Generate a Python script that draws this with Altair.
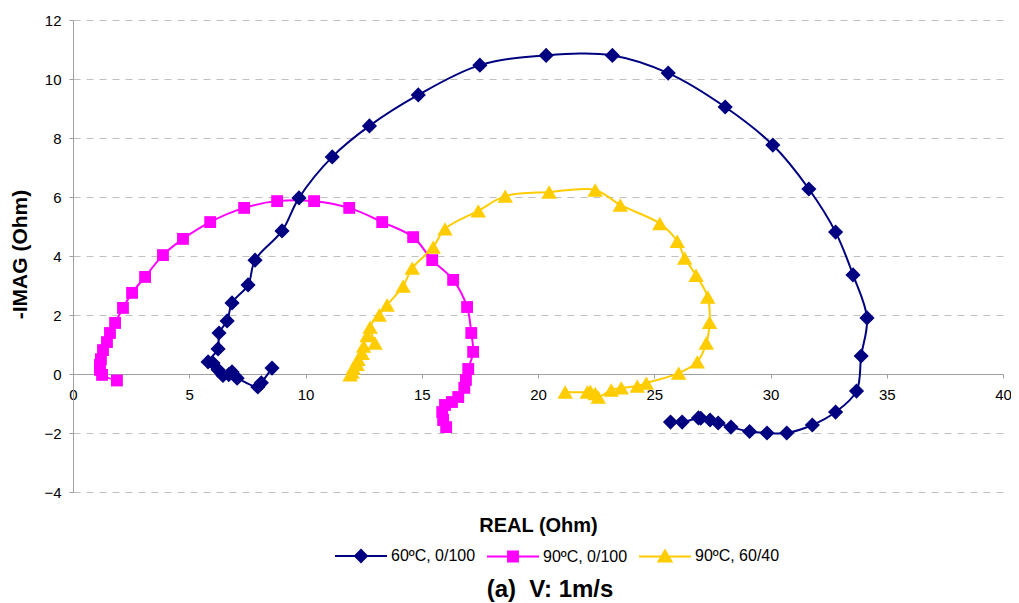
import altair as alt
import pandas as pd

# ---------------- data ----------------
series_names = ["60ºC, 0/100", "90ºC, 0/100", "90ºC, 60/40"]
series_colors = ["#000080", "#FF00FF", "#FFCC00"]
series_shapes = ["diamond", "square", "triangle-up"]
series_sizes = [230, 140, 240]

s1_re = [25.7, 26.2, 26.9, 27.0, 27.4, 27.75, 28.3, 29.1, 29.85, 30.7, 31.8, 32.8,
         33.7, 33.9, 34.15, 33.55, 32.8, 31.65, 30.1, 28.05, 25.6, 23.2, 20.35,
         17.5, 14.85, 12.75, 11.15, 9.72, 8.99, 7.83, 7.53, 6.84, 6.63, 6.28, 6.24,
         5.81, 6.02, 6.24, 6.45, 6.84, 6.7, 7.06, 7.95, 8.1, 8.56]
s1_im = [-1.63, -1.63, -1.49, -1.5, -1.56, -1.66, -1.8, -1.95, -2.0, -2.0, -1.73, -1.29,
         -0.58, 0.61, 1.9, 3.36, 4.81, 6.27, 7.76, 9.05, 10.2, 10.8, 10.8,
         10.47, 9.46, 8.41, 7.36, 5.97, 4.85, 3.86, 3.02, 2.41, 1.8, 1.39, 0.85,
         0.41, 0.37, 0.14, -0.05, 0.07, -0.02, -0.14, -0.44, -0.3, 0.2]

s2_re = [1.89, 1.25, 1.16, 1.16, 1.2, 1.29, 1.46, 1.59, 1.81, 2.15, 2.54, 3.1, 3.87,
         4.73, 5.9, 7.36, 8.78, 10.37, 11.88, 13.3, 14.63, 15.45, 16.35, 16.95,
         17.13, 17.21, 17.0, 16.9, 16.83, 16.57, 16.3, 16.0, 15.88, 15.92, 16.05]
s2_im = [-0.22, -0.03, 0.14, 0.31, 0.5, 0.81, 1.08, 1.39, 1.73, 2.24, 2.75, 3.29, 4.03,
         4.58, 5.15, 5.63, 5.86, 5.86, 5.63, 5.15, 4.64, 3.86, 3.19, 2.27,
         1.39, 0.75, 0.17, -0.2, -0.47, -0.78, -0.95, -1.05, -1.29, -1.56, -1.8]

s3_re = [21.17, 22.12, 22.25, 22.46, 22.59, 23.15, 23.58, 24.27, 24.66, 26.05, 26.85,
         27.24, 27.38, 27.3, 26.8, 26.31, 25.99, 25.24, 23.54, 22.46, 20.48, 18.59,
         17.43, 16.0, 15.49, 14.59, 14.2, 13.51, 13.17, 12.78, 12.99, 12.65, 12.5,
         12.44, 12.26, 12.22, 12.05, 12.0, 11.92]
s3_im = [-0.61, -0.61, -0.58, -0.66, -0.78, -0.54, -0.47, -0.41, -0.31, 0.03, 0.41,
         1.05, 1.75, 2.61, 3.35, 3.93, 4.5, 5.1, 5.73, 6.24, 6.17, 6.03,
         5.53, 4.92, 4.3, 3.59, 2.98, 2.34, 2.0, 1.59, 1.05, 1.3, 0.95,
         0.7, 0.5, 0.33, 0.2, 0.07, -0.03]

x_ticks = [0, 5, 10, 15, 20, 25, 30, 35, 40]
y_ticks = [-4, -2, 0, 2, 4, 6, 8, 10, 12]

x_title = "REAL (Ohm)"
y_title = "-IMAG (Ohm)"
caption = "(a)\u00a0 V: 1m/s"

rows = []
for name, xs, ys in zip(series_names, [s1_re, s2_re, s3_re], [s1_im, s2_im, s3_im]):
    for i, (a, b) in enumerate(zip(xs, ys)):
        rows.append({"series": name, "re": a, "im": b, "idx": i})
df = pd.DataFrame(rows)
cap_df = pd.DataFrame({"t": [caption]})

# ---------------- encodings ----------------
FONT = "Liberation Sans"
AX_GRAY = "#a0a0a0"

x_enc = alt.X(
    "re:Q",
    scale=alt.Scale(domain=[0, 40], nice=False, zero=False),
    axis=alt.Axis(
        values=x_ticks, title=x_title, offset=-118, grid=False,
        domainColor=AX_GRAY, tickColor=AX_GRAY, tickSize=4, labelPadding=9,
        labelFontSize=15, labelColor="#000000", labelFlush=False, labelOverlap=False,
        titleFontSize=20, titleFontWeight="bold", titleColor="#000000",
        titleY=151, titleBaseline="middle",
    ),
)
y_enc = alt.Y(
    "im:Q",
    scale=alt.Scale(domain=[-4, 12], nice=False, zero=False),
    axis=alt.Axis(
        values=y_ticks, title=y_title, grid=True, gridColor="#c0c0c0",
        gridDash=[7, 6], gridWidth=1,
        domainColor=AX_GRAY, tickColor=AX_GRAY, tickSize=4, labelPadding=8,
        labelFontSize=15, labelColor="#000000", labelFlush=False, labelOverlap=False,
        titleFontSize=21, titleFontWeight="bold", titleColor="#000000",
        titleX=-53, titleY=234, titleAngle=270, titleAlign="center",
        titleBaseline="middle",
    ),
)

color_scale = alt.Scale(domain=series_names, range=series_colors)

line_layers = []
point_layers = []
for name, col, shp, sz in zip(series_names, series_colors, series_shapes, series_sizes):
    line_layers.append(
        alt.Chart(df)
        .transform_filter(alt.datum.series == name)
        .mark_line(interpolate="catmull-rom", strokeWidth=2, color=col)
        .encode(x=x_enc, y=y_enc, order=alt.Order("idx:Q"))
    )
    point_layers.append(
        alt.Chart(df)
        .transform_filter(alt.datum.series == name)
        .mark_point(filled=True, opacity=1, shape=shp, size=sz, color=col)
        .encode(x=x_enc, y=y_enc)
    )

# legend symbols: a line segment with the marker on it
legend_paths = [
    "M-1,0H1M-0.23,0L0,-0.23L0.23,0L0,0.23Z",
    "M-1,0H1M-0.19,-0.19H0.19V0.19H-0.19Z",
    "M-1,0H1M-0.25,0.2L0.25,0.2L0,-0.23Z",
]
leg = alt.Legend(
    title=None, orient="none", legendX=261, legendY=509, direction="horizontal",
    labelFontSize=16, labelFont=FONT, labelColor="#000000", labelOffset=3,
    columnPadding=7, symbolSize=2704, symbolStrokeWidth=2, padding=0,
    labelLimit=300, symbolFillColor="#000080", symbolStrokeColor="#000080",
    symbolOpacity=1,
)
legend_layer = alt.Chart(df).transform_filter("false").mark_point(
    filled=True, size=2704, strokeWidth=2, opacity=1
).encode(
    x=x_enc, y=y_enc,
    fill=alt.Fill("series:N", scale=color_scale, legend=leg),
    stroke=alt.Stroke("series:N", scale=color_scale, legend=leg),
    shape=alt.Shape("series:N",
                    scale=alt.Scale(domain=series_names, range=legend_paths),
                    legend=leg),
)

cap = alt.Chart(cap_df).mark_text(
    fontSize=24, fontWeight="bold", font=FONT, color="#000000",
    align="center", baseline="alphabetic",
).encode(text="t:N", x=alt.value(477), y=alt.value(577))

chart = (
    alt.layer(*line_layers, *point_layers, legend_layer, cap)
    .properties(
        width=930, height=472,
        autosize=alt.AutoSizeParams(type="none"),
        padding={"left": 65, "top": 12, "right": 8, "bottom": 115},
    )
    .configure(font=FONT)
    .configure_view(stroke=None)
)

chart.save("out.html", embed_options={"renderer": "svg", "actions": False})
